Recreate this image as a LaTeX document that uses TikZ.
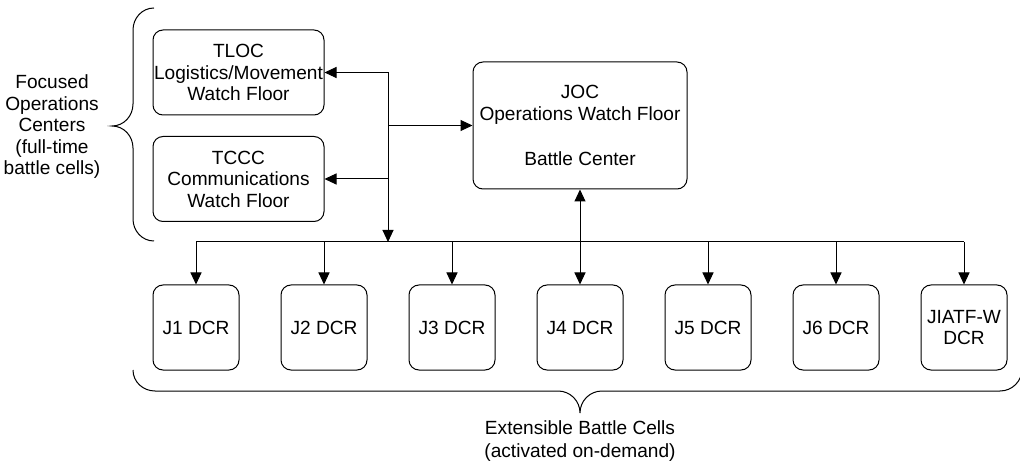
\documentclass[tikz,border=0pt]{standalone}
\usepackage{fontspec}
\setmainfont{Liberation Sans}
\usetikzlibrary{arrows.meta}
\begin{document}
\begin{tikzpicture}[x=1pt,y=1pt,
  line width=1pt,
  font=\fontsize{19.1}{21.5}\selectfont,
  cell/.style={draw, rectangle, rounded corners=10pt, inner sep=0pt, align=center},
  small cell/.style={cell, minimum width=86pt, minimum height=85pt},
  wide cell/.style={cell, minimum width=171pt, minimum height=85pt},
  tip/.style={-{Triangle[length=12pt,width=11pt]}},
  twotip/.style={{Triangle[length=12pt,width=11pt]}-{Triangle[length=12pt,width=11pt]}},
  label text/.style={align=center, inner sep=0pt}]
\useasboundingbox (0,0) rectangle (1020,461);
\clip (0,0) rectangle (1020,461);

% Full-time operations centers
\node[wide cell] (tloc) at (238.5,388.5) {TLOC\\Logistics/Movement\\Watch Floor};
\node[wide cell] (tccc) at (238.5,282) {TCCC\\Communications\\Watch Floor};
\node[cell, minimum width=214pt, minimum height=127pt, font=\fontsize{19.1}{22.5}\selectfont] (joc) at (580,335.5)
  {JOC\\Operations Watch Floor\\ \\Battle Center};

% Deployable cells
\node[small cell] (j1) at (196,133.5) {J1 DCR};
\node[small cell] (j2) at (324,133.5) {J2 DCR};
\node[small cell] (j3) at (452,133.5) {J3 DCR};
\node[small cell] (j4) at (580,133.5) {J4 DCR};
\node[small cell] (j5) at (708,133.5) {J5 DCR};
\node[small cell] (j6) at (836,133.5) {J6 DCR};
\node[small cell] (j7) at (964,133.5) {JIATF-W\\DCR};

% Distribution bus
\coordinate (hub) at (388,219);
\draw[tip] (hub |- tloc.east) -- (hub);
\draw[tip] (hub |- tloc.east) -- (tloc.east);
\draw[tip] (hub |- tccc.east) -- (tccc.east);
\draw[tip] (hub |- joc.west) -- (joc.west);
\draw (hub -| j1.north) -- (hub -| j7.north);
\foreach \c in {j1,j2,j3,j5,j6,j7}
  \draw[tip] (hub -| \c.north) -- (\c.north);
\draw[twotip] (j4.north) -- (joc.south);

% Group braces
\draw (154,453) to[out=180,in=90] (133,431) -- (133,357)
  to[out=-90,in=0] (112,335) to[out=0,in=90] (133,313) -- (133,242)
  to[out=-90,in=180] (154,220);
\draw (133,91) to[out=-90,in=180] (155,70) -- (558,70)
  to[out=0,in=90] (580,48) to[out=90,in=180] (602,70) -- (1000,70)
  to[out=0,in=-90] (1022,92);

\node[label text] (focused) at (52,334) {Focused\\Operations\\Centers\\(full-time\\battle cells)};
\node[label text, font=\fontsize{19.1}{23}\selectfont] (extensible) at (580,20) {Extensible Battle Cells\\(activated on-demand)};
\end{tikzpicture}
\end{document}
